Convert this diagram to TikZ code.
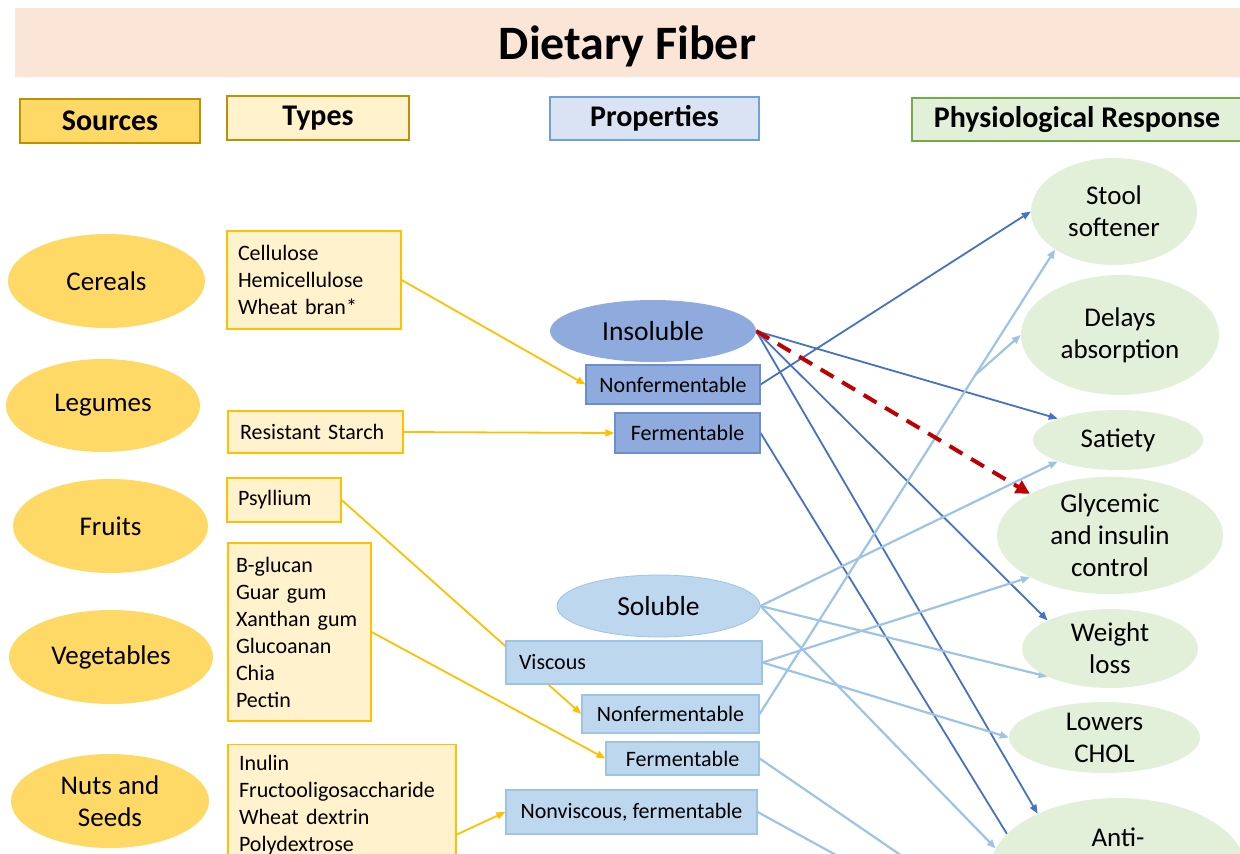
\documentclass[tikz,border=0pt]{standalone}
\usepackage{fontspec}
\setmainfont{Carlito}
\usetikzlibrary{positioning,arrows.meta,shapes.geometric,backgrounds,calc}

\definecolor{titlefill}{HTML}{FBE5D6}
\definecolor{srcgold}{HTML}{FFD966}
\definecolor{srcedge}{HTML}{BF9000}
\definecolor{typefill}{HTML}{FFF2CC}
\definecolor{typeedge}{HTML}{FFC000}
\definecolor{propfill}{HTML}{DAE3F3}
\definecolor{propedge}{HTML}{6FA0D8}
\definecolor{respfill}{HTML}{E2F0D9}
\definecolor{respedge}{HTML}{70AD47}
\definecolor{insolfill}{HTML}{8FAADC}
\definecolor{insoledge}{HTML}{6A8FD0}
\definecolor{solfill}{HTML}{BDD7EE}
\definecolor{soledge}{HTML}{9DC3E6}
\definecolor{darkblue}{HTML}{4472C4}
\definecolor{lightblue}{HTML}{9DC3E6}
\definecolor{arrowred}{HTML}{C00000}

\begin{document}
\begin{tikzpicture}[x=1pt, y=-1pt,
  titleband/.style={rectangle, fill=titlefill, inner sep=0pt, text depth=0pt, font=\bfseries\fontsize{48}{54}\selectfont},
  hdr/.style={rectangle, line width=1.3pt, inner sep=0pt, font=\bfseries\fontsize{30}{36}\selectfont},
  bigtxt/.style={font=\fontsize{27}{32}\selectfont, align=center, inner sep=0pt},
  srcv/.style={ellipse, fill=srcgold, inner sep=0pt, align=center, font=\fontsize{27}{32}\selectfont},
  typebox/.style={rectangle, draw=typeedge, fill=typefill, line width=1.3pt, inner xsep=11pt, inner ysep=0pt, align=left, font=\fontsize{22}{27}\selectfont},
  insolv/.style={ellipse, fill=insolfill, inner sep=0pt, font=\fontsize{27.5}{32}\selectfont},
  insolbox/.style={rectangle, draw=insoledge, fill=insolfill, line width=1.2pt, inner sep=0pt, font=\fontsize{22}{27}\selectfont},
  solv/.style={ellipse, draw=soledge, fill=solfill, line width=0.8pt, inner sep=0pt, font=\fontsize{27.5}{32}\selectfont},
  solbox/.style={rectangle, draw=soledge, fill=solfill, line width=1.2pt, inner sep=0pt, font=\fontsize{22}{27}\selectfont},
  respv/.style={ellipse, fill=respfill, inner sep=0pt, align=center, font=\fontsize{27}{32}\selectfont},
  yellowedge/.style={draw=typeedge, line width=1.8pt, -{Triangle[length=9pt,width=7pt]}},
  darkedge/.style={draw=darkblue, line width=1.8pt, -{Triangle[length=9pt,width=7pt]}},
  lightedge/.style={draw=lightblue, line width=2.2pt, -{Triangle[length=9pt,width=7pt]}},
  redarrow/.style={draw=arrowred, line width=4pt, dash pattern=on 15pt off 10pt, -{Triangle[length=14pt,width=14pt]}}
]
\useasboundingbox (0,0) rectangle (1240,854);

% title and column headers
\node[titleband, minimum width=1225pt, minimum height=69pt] (title) at (627.5,42.5) {Dietary Fiber};
\node[hdr, draw=srcedge, fill=srcgold, minimum width=180pt, minimum height=44pt] (hsrc) at (110,121) {Sources};
\node[hdr, draw=srcedge, fill=typefill, minimum width=182pt, minimum height=44pt] (htype) at (318,118) {Types};
\node[hdr, draw=propedge, fill=propfill, minimum width=209pt, minimum height=43pt] (hprop) at (654.5,118.5) {Properties};
\node[hdr, draw=respedge, fill=respfill, minimum width=330pt, minimum height=43pt] (hresp) at (1077,119.5) {Physiological Response};

% sources
\node[srcv, minimum width=197pt, minimum height=94pt] (cereals) at (106.5,281) {Cereals};
\node[srcv, minimum width=194pt, minimum height=93pt] (legumes) at (103,405.5) {Legumes};
\node[srcv, minimum width=195pt, minimum height=94pt] (fruits) at (110.5,526) {Fruits};
\node[srcv, minimum width=204pt, minimum height=94pt] (vegs) at (111,657) {Vegetables};
\node[srcv, minimum width=198pt, minimum height=94pt] (nuts) at (110,801) {Nuts and\\Seeds};

% types
\node[typebox, text width=152pt, minimum height=98pt] (cellbox) at (314,280) {Cellulose\\Hemicellulose\\Wheat bran*};
\node[typebox, text width=151pt, inner xsep=12pt, minimum height=42pt] (rsbox) at (315.5,432) {Resistant Starch};
\node[typebox, text width=92pt, minimum height=44pt] (psybox) at (284,500) {Psyllium};
\node[typebox, text width=127pt, inner xsep=8pt, minimum height=178pt] (bgbox) at (299.5,632) {B-glucan\\Guar gum\\Xanthan gum\\Glucoanan\\Chia\\Pectin};
\node[typebox, text width=206pt, inner ysep=11pt, anchor=north] (inbox) at (342,744) {Inulin\\Fructooligosaccharide\\Wheat dextrin\\Polydextrose};

% properties
\node[insolv, minimum width=206pt, minimum height=62pt] (insol) at (653,331) {Insoluble};
\node[insolbox, minimum width=174pt, minimum height=39pt] (nfi) at (673,384.5) {Nonfermentable};
\node[insolbox, minimum width=145pt, minimum height=40pt] (fi) at (687.5,433) {Fermentable};
\node[solv, minimum width=203pt, minimum height=62pt] (sol) at (658.5,606) {Soluble};
\node[solbox, text width=230pt, inner xsep=13pt, align=left, minimum height=43pt] (visc) at (634,662.5) {Viscous};
\node[solbox, minimum width=177pt, minimum height=38pt] (nfs) at (670.5,714) {Nonfermentable};
\node[solbox, minimum width=153pt, minimum height=33pt] (fs) at (682.5,758.5) {Fermentable};
\node[solbox, minimum width=251pt, minimum height=44pt] (nvf) at (631.5,812) {Nonviscous, fermentable};

% responses
\node[respv, minimum width=166pt, minimum height=107pt] (stool) at (1114,211.5) {Stool\\softener};
\node[respv, minimum width=198pt, minimum height=120pt] (delays) at (1120,335) {Delays\\absorption};
\node[respv, minimum width=170pt, minimum height=60pt] (satiety) at (1118,440) {Satiety};
\node[respv, minimum width=226pt, minimum height=105pt] (glyc) at (1110,535.5) {Glycemic\\and insulin\\control};
\node[respv, minimum width=176pt, minimum height=79pt] (weight) at (1110,648.5) {Weight\\loss};
\node[respv, minimum width=191pt, minimum height=71pt] (chol) at (1104.5,737.5) {Lowers\\CHOL};
\node[respv, minimum width=256pt, minimum height=144pt] (anti) at (1118,870) {};
\node[bigtxt] (antilbl) at (1118,837) {Anti-};

\begin{pgfonlayer}{background}
\coordinate (fork) at ($(nfs.east)!0.73!(stool.south west)$);
\coordinate (fsoff) at (1010,930);
\coordinate (nvfoff) at (960,923);

\draw[yellowedge] (cellbox.east) -- (nfi.west);
\draw[yellowedge] (rsbox.east) -- (fi.west);
\draw[yellowedge] (psybox.east) -- (nfs.west);
\draw[yellowedge] (bgbox.east) -- (fs.west);
\draw[yellowedge] (inbox.east |- nvf.south) -- (nvf.west);

\draw[darkedge] (nfi.east) -- (stool.west);
\draw[darkedge] (insol.east) -- (satiety.north west);
\draw[darkedge] (insol.east) -- (weight.north west);
\draw[darkedge] (insol.east) -- (anti.145);
\draw[draw=darkblue, line width=1.8pt] (fi.east) -- (anti.162);

\draw[lightedge] (sol.east) -- (satiety.south west);
\draw[lightedge] (sol.east) -- (weight.south west);
\draw[lightedge] (sol.east) -- (anti.170);
\draw[lightedge] (visc.east) -- (glyc.south west);
\draw[lightedge] (visc.east) -- (chol.west);
\draw[lightedge] (nfs.east) -- (stool.south west);
\draw[lightedge] (fork) -- (delays.west);
\draw[lightedge] (fs.east) -- (fsoff);
\draw[lightedge] (nvf.east) -- (nvfoff);

\draw[redarrow] (insol.east) -- (glyc.north west);
\end{pgfonlayer}

\end{tikzpicture}
\end{document}
